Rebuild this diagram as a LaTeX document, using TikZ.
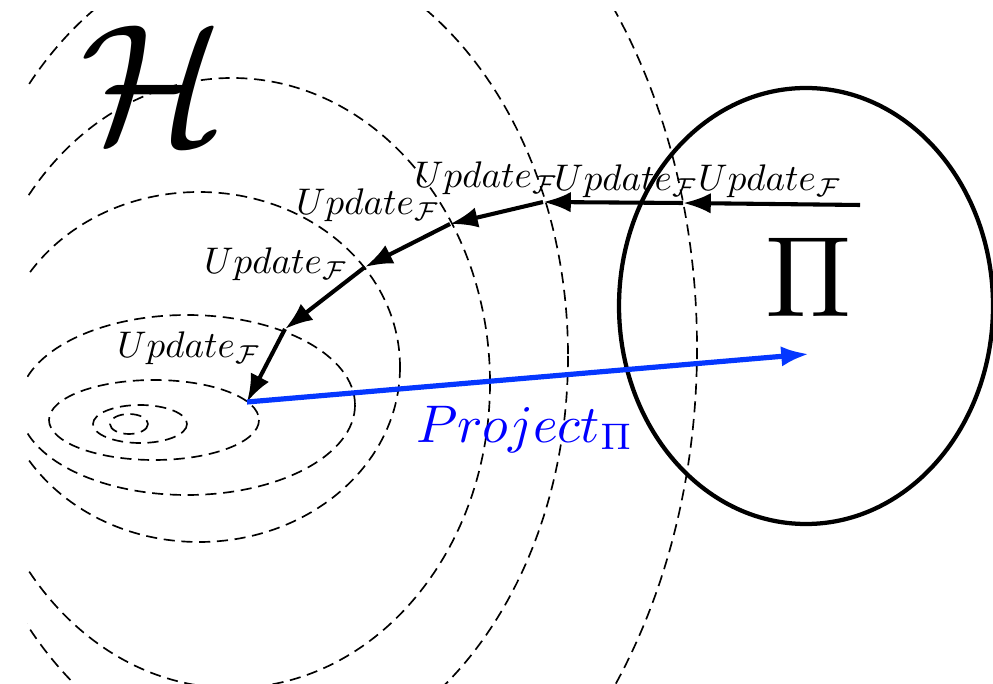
\documentclass[tikz,border=0pt]{standalone}
\usetikzlibrary{arrows.meta}
\definecolor{projblue}{RGB}{5,55,255}
\begin{document}
\begin{tikzpicture}[x=0.27pt, y=-0.27pt, >={Latex[length=7.5pt,width=5.5pt]}]
	% Define styles
	\tikzstyle{contour} = [dash pattern=on 3pt off 1.8pt, line width=0.45pt]
	\tikzstyle{constraint} = [line width=1.15pt]
	\tikzstyle{bigsymbol} = [inner sep=0pt]
	\tikzstyle{updatestep} = [->, line width=1.1pt]
	\tikzstyle{updatelabel} = [anchor=base, inner sep=0pt]
	\tikzstyle{projectstep} = [->, line width=1.4pt, color=projblue]
	
	\useasboundingbox (0,0) rectangle (993,684);
	
	% Level sets of the objective
	\begin{scope}
		\clip (27,12) rectangle (993,684);
		\draw[contour] (129,424) ellipse [x radius=19, y radius=10];
		\draw[contour] (140,424) ellipse [x radius=47, y radius=19];
		\draw[contour] (154,420) ellipse [x radius=105, y radius=40];
		\draw[contour] (187,405) ellipse [x radius=168, y radius=90];
		\draw[contour] (199,367) ellipse [x radius=201, y radius=175];
		\draw[contour] (232,383) ellipse [x radius=258, y radius=305];
		\draw[contour] (260,356) ellipse [x radius=308, y radius=411];
		\draw[contour] (290,348) ellipse [x radius=407, y radius=560];
	\end{scope}
	
	% Constraint set
	\draw[constraint] (806,306) ellipse [x radius=187, y radius=218];
	\node[bigsymbol, scale=3.1] (Pi) at (809,277) {$\Pi$};
	\node[bigsymbol, scale=4.6] (H) at (153,84) {$\mathcal{H}$};
	
	% Iterates
	\coordinate (x0) at (860,205);
	\coordinate (x1) at (683,203);
	\coordinate (x2) at (543,202);
	\coordinate (x3) at (450,224);
	\coordinate (x4) at (365,267);
	\coordinate (x5) at (285,329);
	\coordinate (x6) at (247,402);
	\coordinate (proj) at (809,354);
	
	% Update labels
	\node[updatelabel] (u1) at (770,191) {$Update_{\mathcal{F}}$};
	\node[updatelabel] (u2) at (626,191) {$Update_{\mathcal{F}}$};
	\node[updatelabel] (u3) at (486,188) {$Update_{\mathcal{F}}$};
	\node[updatelabel] (u4) at (368,215) {$Update_{\mathcal{F}}$};
	\node[updatelabel] (u5) at (276,274) {$Update_{\mathcal{F}}$};
	\node[updatelabel] (u6) at (189,358) {$Update_{\mathcal{F}}$};
	\node[updatelabel, scale=1.43, text=blue] (p) at (525,442) {$Project_{\Pi}$};
	
	% Arrows
	\draw[updatestep] (x0) -- (x1);
	\draw[updatestep] (x1) -- (x2);
	\draw[updatestep] (x2) -- (x3);
	\draw[updatestep] (x3) -- (x4);
	\draw[updatestep] (x4) -- (x5);
	\draw[updatestep] (x5) -- (x6);
	\draw[projectstep] (x6) -- (proj);
\end{tikzpicture}
\end{document}
